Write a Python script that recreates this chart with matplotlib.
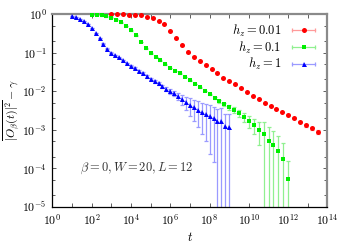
import numpy as np
import matplotlib
matplotlib.use('Agg')
import matplotlib.pyplot as plt
from matplotlib.lines import Line2D
from matplotlib.legend_handler import HandlerLine2D, HandlerTuple
from matplotlib.ticker import FixedLocator, FuncFormatter, NullFormatter

plt.rcParams['mathtext.fontset'] = 'cm'
plt.rcParams['font.family'] = 'DejaVu Serif'

# log10(t) of the samples
t_red_exp = [3.0, 3.3, 3.6, 3.9, 4.2, 4.5, 4.8, 5.1, 5.4, 5.7, 6.0, 6.3, 6.6, 6.9, 7.2, 7.5, 7.8, 8.1,
             8.4, 8.7, 9.0, 9.3, 9.6, 9.9, 10.2, 10.5, 10.8, 11.1, 11.4, 11.7, 12.0, 12.3, 12.6, 12.9, 13.2, 13.5]
t_green_exp = [2.0, 2.25, 2.5, 2.75, 3.0, 3.25, 3.5, 3.75, 4.0, 4.25, 4.5, 4.75, 5.0, 5.25, 5.5, 5.75,
               6.0, 6.25, 6.5, 6.75, 7.0, 7.25, 7.5, 7.75, 8.0, 8.25, 8.5, 8.75, 9.0, 9.25, 9.5, 9.75,
               10.0, 10.25, 10.5, 10.75, 11.0, 11.25, 11.5, 11.75, 12.0]
t_blue_exp = [1.0, 1.2, 1.4, 1.6, 1.8, 2.0, 2.2, 2.4, 2.6, 2.8, 3.0, 3.2, 3.4, 3.6, 3.8, 4.0, 4.2, 4.4,
              4.6, 4.8, 5.0, 5.2, 5.4, 5.6, 5.8, 6.0, 6.2, 6.4, 6.6, 6.8, 7.0, 7.2, 7.4, 7.6, 7.8, 8.0,
              8.2, 8.4, 8.6, 8.8, 9.0]

y_red = [0.995, 0.982, 0.982, 0.959, 0.942, 0.925, 0.851, 0.774, 0.659, 0.541, 0.363, 0.243, 0.153,
         0.1007, 0.0783, 0.0605, 0.0478, 0.0376, 0.0301, 0.0220, 0.0184, 0.0149, 0.0121, 0.00938,
         0.00760, 0.00621, 0.00500, 0.00414, 0.00346, 0.00284, 0.00242, 0.00199, 0.00162, 0.00129,
         0.00107, 0.000877]
y_green = [0.942, 0.942, 0.925, 0.861, 0.802, 0.711, 0.609, 0.489, 0.374, 0.277, 0.188, 0.128, 0.0948,
           0.0769, 0.0624, 0.0492, 0.0399, 0.0334, 0.0287, 0.0233, 0.0189, 0.0154, 0.0125, 0.0101,
           0.00822, 0.00667, 0.00541, 0.00452, 0.00378, 0.00326, 0.00272, 0.00215, 0.00169, 0.00133,
           0.000988, 0.000778, 0.000522, 0.000404, 0.000277, 0.000178, 5.22e-5]
y_blue = [0.871, 0.822, 0.742, 0.651, 0.544, 0.429, 0.316, 0.235, 0.170, 0.126, 0.0994, 0.0867, 0.0746,
          0.0636, 0.0544, 0.0450, 0.0394, 0.0330, 0.0287, 0.0240, 0.0207, 0.0178, 0.0158, 0.0132,
          0.0114, 0.00982, 0.00871, 0.00751, 0.00610, 0.00509, 0.00439, 0.00378, 0.00326, 0.00281,
          0.00256, 0.00228, 0.00202, 0.00166, 0.00166, 0.00123, 0.00118]

# error bars as fraction of the value
rel_err_red = [0.01] * 30 + [0.03, 0.04, 0.05, 0.07, 0.09, 0.12]
rel_err_green = [0.02] * 24 + [0.05, 0.07, 0.09, 0.11, 0.14, 0.18, 0.22, 0.27, 0.33, 0.42, 0.6,
                               1.05, 1.2, 1.3, 1.5, 1.6, 2.0]
rel_err_blue = [0.01] * 15 + [0.03, 0.04, 0.05, 0.06, 0.07, 0.08, 0.09, 0.1, 0.11, 0.12, 0.13, 0.16,
                              0.2, 0.28, 0.38, 0.5, 0.55, 0.65, 0.72, 0.8, 0.9, 0.93, 1.1, 1.2, 1.1, 1.2]

labels = [r'$h_z = 0.01$', r'$h_z = 0.1$', r'$h_z = 1$']

series = [
    (t_red_exp, y_red, rel_err_red, '#ff0000', '#ff9a9a', 'o', 3.6),
    (t_green_exp, y_green, rel_err_green, '#00ee00', '#90f090', 's', 3.4),
    (t_blue_exp, y_blue, rel_err_blue, '#0000ff', '#9a9aff', '^', 3.6),
]

fig = plt.figure(figsize=(3.5, 2.45), dpi=100)
ax = fig.add_axes([0.1497, 0.1563, 0.7860, 0.7866])
ax.set_xscale('log')
ax.set_yscale('log')

handles = []
hmap = {}
for (te, y, rel, col, light, mk, ms) in series:
    t = 10.0 ** np.array(te)
    y = np.array(y)
    err = np.array(rel) * y
    lower = np.minimum(err, y * 0.99999)
    ax.errorbar(t, y, yerr=[lower, err], fmt='none', ecolor=light, elinewidth=0.9,
                capsize=1.6, capthick=0.9)
    ax.plot(t, y, linestyle='none', marker=mk, color=col, markersize=ms,
            markeredgewidth=0, clip_on=False, zorder=5)
    cap = Line2D([], [], color=light, linewidth=0.9, marker='|', markersize=3, markeredgewidth=0.9)
    dot = Line2D([], [], color=col, linestyle='none', marker=mk, markersize=ms, markeredgewidth=0)
    hmap[cap] = HandlerLine2D(numpoints=2)
    hmap[dot] = HandlerLine2D(numpoints=1)
    handles.append((cap, dot))
hmap[tuple] = HandlerTuple(ndivide=1, pad=0)

ax.set_xlim(1, 1e14)
ax.set_ylim(1e-5, 1)

ax.xaxis.set_major_locator(FixedLocator([10.0 ** k for k in range(0, 15)]))
ax.xaxis.set_major_formatter(FuncFormatter(lambda v, p: r'$10^{%d}$' % round(np.log10(v)) if round(np.log10(v)) % 2 == 0 else ''))
ax.xaxis.set_minor_locator(FixedLocator([]))
ax.yaxis.set_major_locator(FixedLocator([10.0 ** k for k in range(-5, 1)]))
ax.yaxis.set_major_formatter(FuncFormatter(lambda v, p: r'$10^{%d}$' % round(np.log10(v))))
minor_y = [m * 10.0 ** k for k in range(-5, 0) for m in (2, 5)]
ax.yaxis.set_minor_locator(FixedLocator(minor_y))
ax.yaxis.set_minor_formatter(NullFormatter())

ax.tick_params(which='both', direction='in', top=True, right=True, labelsize=8.5, pad=4,
               color='#444444')
ax.tick_params(which='major', length=3, width=0.6)
ax.tick_params(which='minor', length=2, width=0.6)

for s in ('left', 'bottom'):
    ax.spines[s].set_color('black')
    ax.spines[s].set_linewidth(0.9)
for s in ('top', 'right'):
    ax.spines[s].set_color('#8a8a8a')
    ax.spines[s].set_linewidth(1.6)

ax.set_xlabel(r'$t$', fontsize=9, labelpad=3)
ax.set_ylabel(r'$\overline{|O_\beta(t)|^2} - \gamma$', fontsize=8.5)
ax.yaxis.set_label_coords(-0.112, 0.5)

ax.text(10 ** 1.4, 1e-4, r'$\beta = 0, W = 20, L = 12$', fontsize=9, va='center', ha='left',
        color='#333333')

ax.legend(handles, labels, handler_map=hmap, loc='upper right', markerfirst=False,
          frameon=False, fontsize=9, handlelength=2.4, handletextpad=0.6, labelspacing=0.05,
          borderaxespad=0.3)

fig.savefig('out.png', dpi=100)
